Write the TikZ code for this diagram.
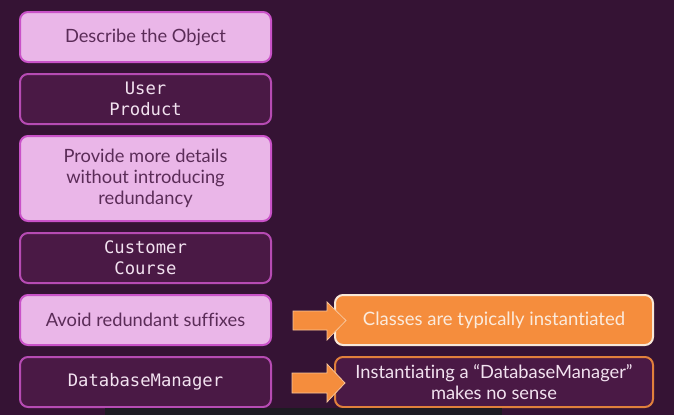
\documentclass[tikz,border=0pt]{standalone}
\usepackage{fontspec}
\setmainfont{Lato}[Ligatures=NoCommon]
\setmonofont{DejaVu Sans Mono}
\definecolor{bg}{HTML}{351334}
\definecolor{lightfill}{HTML}{EAB6E8}
\definecolor{pinkline}{HTML}{C952C8}
\definecolor{darkfill}{HTML}{4A1945}
\definecolor{darkline}{HTML}{B64BB3}
\definecolor{lighttext}{HTML}{5B2C58}
\definecolor{monotext}{HTML}{F2E2F0}
\definecolor{orangefill}{HTML}{F58D3D}
\definecolor{orangeline}{HTML}{E0803C}
\definecolor{creamline}{HTML}{F8E8D8}
\definecolor{creamtext}{HTML}{FBEBDD}
\definecolor{barfill}{HTML}{1D1B22}
\tikzset{
  box/.style={rounded corners=8pt, minimum width=251pt, inner sep=2pt, align=center, line width=2pt},
  lightbox/.style={box, fill=lightfill, draw=pinkline, text=lighttext, font=\fontsize{18.3}{21}\selectfont},
  darkbox/.style={box, fill=darkfill, draw=darkline, text=monotext, font=\ttfamily\fontsize{17.2}{21}\selectfont},
  orangebox/.style={box, minimum width=318pt, fill=orangefill, draw=creamline, text=creamtext, font=\fontsize{18.5}{21}\selectfont},
  outbox/.style={box, minimum width=318pt, fill=darkfill, draw=orangeline, text=monotext, font=\fontsize{18.3}{21}\selectfont},
  blockarrow/.style={fill=orangefill, draw=creamline!60!orangefill, line width=0.8pt, line join=miter},
}
\begin{document}
\begin{tikzpicture}[x=1pt,y=-1pt]
\fill[bg] (0,0) rectangle (674,415);
\useasboundingbox (0,0) rectangle (674,415);
\node[lightbox, minimum height=50pt] (b1) at (145.5,37) {Describe the Object};
\node[darkbox, minimum height=50pt] (b2) at (145.5,99) {User\\Product};
\node[lightbox, minimum height=85pt] (b3) at (145.5,178.5) {Provide more details\\without introducing\\redundancy};
\node[darkbox, minimum height=50pt] (b4) at (145.5,258) {Customer\\Course};
\node[lightbox, minimum height=50pt] (b5) at (145.5,320) {Avoid redundant suffixes};
\node[darkbox, minimum height=50pt] (b6) at (145.5,382) {DatabaseManager};
\node[orangebox, minimum height=50pt] (r1) at (494,320) {Classes are typically instantiated};
\node[outbox, minimum height=50pt] (r2) at (494,382) {Instantiating a “DatabaseManager”\\makes no sense};
% block arrows
\filldraw[blockarrow] (293,311) -- (327,311) -- (327,302) -- (346,320.5) -- (327,340) -- (327,330) -- (293,330) -- cycle;
\filldraw[blockarrow] (292,373) -- (327,373) -- (327,364) -- (345,383) -- (327,402) -- (327,393) -- (292,393) -- cycle;
% bottom bar
\fill[barfill] (105,407.5) rectangle (502,415);
\end{tikzpicture}
\end{document}
